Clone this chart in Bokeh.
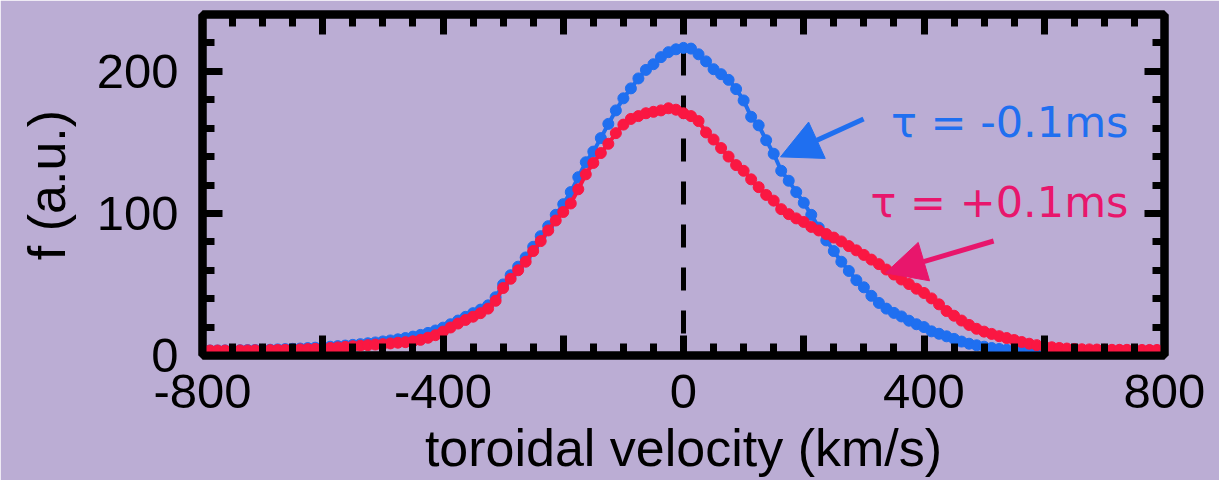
from bokeh.plotting import figure
from bokeh.models import FixedTicker, LinearAxis, Label, Arrow, NormalHead, CustomJSTickFormatter
from bokeh.embed import file_html
from bokeh.resources import INLINE

# Toroidal velocity grid (km/s)
velocity = [
    -800.0, -787.5, -775.0, -762.5, -750.0, -737.5, -725.0, -712.5,
    -700.0, -687.5, -675.0, -662.5, -650.0, -637.5, -625.0, -612.5,
    -600.0, -587.5, -575.0, -562.5, -550.0, -537.5, -525.0, -512.5,
    -500.0, -487.5, -475.0, -462.5, -450.0, -437.5, -425.0, -412.5,
    -400.0, -387.5, -375.0, -362.5, -350.0, -337.5, -325.0, -312.5,
    -300.0, -287.5, -275.0, -262.5, -250.0, -237.5, -225.0, -212.5,
    -200.0, -187.5, -175.0, -162.5, -150.0, -137.5, -125.0, -112.5,
    -100.0, -87.5, -75.0, -62.5, -50.0, -37.5, -25.0, -12.5,
    0.0, 12.5, 25.0, 37.5, 50.0, 62.5, 75.0, 87.5,
    100.0, 112.5, 125.0, 137.5, 150.0, 162.5, 175.0, 187.5,
    200.0, 212.5, 225.0, 237.5, 250.0, 262.5, 275.0, 287.5,
    300.0, 312.5, 325.0, 337.5, 350.0, 362.5, 375.0, 387.5,
    400.0, 412.5, 425.0, 437.5, 450.0, 462.5, 475.0, 487.5,
    500.0, 512.5, 525.0, 537.5, 550.0, 562.5, 575.0, 587.5,
    600.0, 612.5, 625.0, 637.5, 650.0, 662.5, 675.0, 687.5,
    700.0, 712.5, 725.0, 737.5, 750.0, 762.5, 775.0, 787.5,
    800.0,
]

# Distribution f (a.u.) at tau = -0.1 ms
f_minus = [
    3.5, 3.5, 3.5, 3.6, 3.6, 3.7, 3.8, 3.9,
    4.0, 4.1, 4.3, 4.5, 4.7, 4.9, 5.2, 5.5,
    5.8, 6.2, 6.6, 7.0, 7.5, 8.0, 8.6, 9.2,
    9.9, 10.6, 11.4, 12.3, 13.3, 14.5, 15.9, 17.6,
    19.6, 22.0, 24.6, 27.2, 29.8, 32.3, 35.3, 41.0,
    50.0, 56.5, 62.5, 69.0, 76.5, 84.0, 91.0, 99.0,
    106.5, 115.0, 125.5, 136.0, 143.5, 153.0, 163.0, 172.5,
    181.0, 188.0, 195.0, 201.0, 205.0, 210.0, 213.5, 215.5,
    216.5, 216.0, 212.0, 207.0, 201.5, 198.0, 194.0, 187.5,
    179.5, 168.0, 162.0, 151.5, 142.0, 130.0, 123.0, 115.0,
    107.5, 99.0, 90.0, 81.0, 73.5, 66.0, 59.5, 53.0,
    48.0, 42.0, 37.0, 33.0, 30.0, 27.5, 24.5, 22.0,
    20.0, 17.0, 15.3, 13.5, 11.7, 9.8, 8.3, 7.2,
    6.2, 5.3, 4.6, 4.1, 3.8, 3.6, 3.5, 3.4,
    3.4, 3.4, 3.4, 3.4, 3.4, 3.4, 3.4, 3.4,
    3.4, 3.4, 3.4, 3.4, 3.4, 3.4, 3.4, 3.4,
    3.4,
]

# Distribution f (a.u.) at tau = +0.1 ms
f_plus = [
    3.5, 3.5, 3.5, 3.5, 3.6, 3.6, 3.6, 3.7,
    3.7, 3.8, 3.9, 4.0, 4.1, 4.3, 4.5, 4.7,
    5.0, 5.3, 5.7, 6.1, 6.5, 6.9, 7.3, 7.7,
    8.0, 8.5, 9.0, 9.4, 10.0, 11.0, 12.5, 14.3,
    16.8, 19.7, 22.5, 25.0, 27.3, 29.8, 33.0, 38.5,
    47.5, 54.0, 60.0, 66.0, 73.5, 80.5, 88.0, 95.0,
    101.0, 107.0, 117.0, 127.5, 135.5, 142.5, 149.0, 156.5,
    162.5, 166.5, 168.5, 170.5, 171.5, 172.5, 174.0, 173.0,
    170.5, 168.5, 165.0, 157.0, 152.0, 146.0, 140.0, 134.0,
    130.0, 124.0, 118.5, 113.0, 109.0, 103.0, 99.5, 96.5,
    94.0, 90.5, 88.0, 85.5, 83.0, 80.3, 77.0, 74.0,
    70.8, 67.5, 64.3, 60.5, 57.0, 53.5, 50.3, 47.0,
    44.0, 40.2, 36.0, 31.3, 28.0, 24.6, 21.5, 18.8,
    16.8, 15.2, 13.6, 12.3, 10.9, 9.5, 8.3, 7.3,
    6.5, 5.8, 5.3, 4.9, 4.6, 4.4, 4.3, 4.2,
    4.1, 4.0, 4.0, 4.0, 3.9, 3.9, 3.9, 3.9,
    3.9,
]

x_major = [-800, -600, -400, -200, 0, 200, 400, 600, 800]
x_minor = [-750, -700, -650, -550, -500, -450, -350, -300, -250, -150, -100, -50,
           50, 100, 150, 250, 300, 350, 450, 500, 550, 650, 700, 750]
x_tick_text = {-800: "-800", -600: "", -400: "-400", -200: "", 0: "0",
               200: "", 400: "400", 600: "", 800: "800"}
y_major = [0, 100, 200]
y_minor = [20, 40, 60, 80, 120, 140, 160, 180, 220, 240]

x_title = "toroidal velocity (km/s)"
y_title = "f (a.u.)"
series_labels = ["τ = -0.1ms", "τ = +0.1ms"]

BG = "#BBADD4"
BLUE = "#1F6FF0"
RED = "#FA1742"
RED_TEXT = "#E8166C"
FONT = "Liberation Sans"

p = figure(width=1219, height=480, x_range=(-800, 800), y_range=(0, 240),
           output_backend="svg", toolbar_location=None,
           min_border_left=202, min_border_right=55, min_border_top=14, min_border_bottom=125,
           background_fill_color=BG, border_fill_color=BG)
p.grid.visible = False
p.outline_line_color = "black"
p.outline_line_width = 8

bottom_axis = p.below[0]
left_axis = p.left[0]
top_axis = LinearAxis()
right_axis = LinearAxis()
p.add_layout(top_axis, "above")
p.add_layout(right_axis, "right")


def style_axis(ax, major, minor, show_labels):
    ax.ticker = FixedTicker(ticks=major, minor_ticks=minor)
    ax.axis_line_color = "black"
    ax.axis_line_width = 8
    ax.major_tick_in = 20
    ax.major_tick_out = 0
    ax.minor_tick_in = 12
    ax.minor_tick_out = 0
    ax.major_tick_line_width = 7
    ax.minor_tick_line_width = 7
    ax.major_tick_line_color = "black"
    ax.minor_tick_line_color = "black"
    ax.major_label_text_font = FONT
    ax.major_label_text_font_size = "49px"
    ax.major_label_text_color = "black"
    ax.axis_label_text_font = FONT
    ax.axis_label_text_font_size = "52px"
    ax.axis_label_text_font_style = "normal"
    ax.axis_label_text_color = "black"
    if not show_labels:
        ax.formatter = CustomJSTickFormatter(code="return ''")
        ax.major_label_text_font_size = "0px"
        ax.major_label_standoff = 0


style_axis(bottom_axis, x_major, x_minor, True)
style_axis(left_axis, y_major, y_minor, True)
style_axis(top_axis, x_major, x_minor, False)
style_axis(right_axis, y_major, y_minor, False)

bottom_axis.major_label_overrides = x_tick_text
bottom_axis.major_label_standoff = 19
bottom_axis.axis_label = x_title
bottom_axis.axis_label_standoff = 8
left_axis.axis_label = y_title
left_axis.major_label_standoff = 24
left_axis.axis_label_standoff = 18

# dashed reference line at zero velocity
p.line(x=[0, 0], y=[p.y_range.end, p.y_range.start], line_color="black",
       line_width=5, line_dash="23 20", line_dash_offset=5)

p.line(velocity, f_minus, line_color=BLUE, line_width=4)
p.scatter(velocity, f_minus, size=11, fill_color=BLUE, line_color=BLUE)
p.line(velocity, f_plus, line_color=RED, line_width=4)
p.scatter(velocity, f_plus, size=11, fill_color=RED, line_color=RED)

p.add_layout(Label(x=740, y=164, text=series_labels[0], text_align="right",
                   text_baseline="alphabetic", text_font="DejaVu Sans",
                   text_font_size="43px", text_color=BLUE))
p.add_layout(Label(x=740, y=108, text=series_labels[1], text_align="right",
                   text_baseline="alphabetic", text_font="DejaVu Sans",
                   text_font_size="43px", text_color=RED_TEXT))

p.add_layout(Arrow(end=NormalHead(size=40, fill_color=BLUE, line_color=BLUE),
                   x_start=299.5, y_start=166.5, x_end=161.4, y_end=139.8,
                   line_color=BLUE, line_width=5))
p.add_layout(Arrow(end=NormalHead(size=40, fill_color=RED_TEXT, line_color=RED_TEXT),
                   x_start=515.8, y_start=80.6, x_end=336.0, y_end=58.1,
                   line_color=RED_TEXT, line_width=5))

open("out.html", "w").write(file_html(p, INLINE))
